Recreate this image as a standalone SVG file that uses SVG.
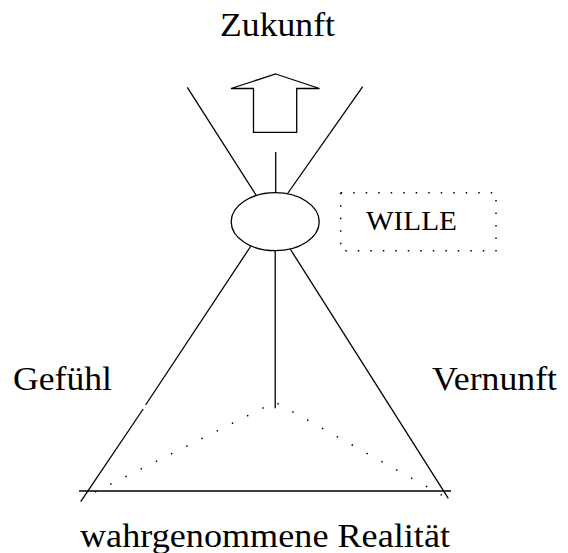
<svg xmlns="http://www.w3.org/2000/svg" width="568" height="553" viewBox="0 0 568 553">
<style>
.ln{fill:none;stroke:#000;stroke-width:1.3}
.dot{fill:none;stroke:#000;stroke-width:1.5;stroke-dasharray:1.5 15.5}
.dotb{fill:none;stroke:#000;stroke-width:1.5;stroke-dasharray:1.5 11}
.lbl{font-family:"Liberation Serif","Times New Roman",serif;font-size:34px;fill:#000}
.wl{font-family:"Liberation Serif","Times New Roman",serif;font-size:28px;fill:#000}
</style>
<rect width="568" height="553" fill="#fff"/>
<g id="connectors">
<line class="ln" x1="187.3" y1="87.3" x2="256" y2="195"/>
<line class="ln" x1="362.7" y1="86.7" x2="287.6" y2="193.5"/>
<line class="ln" x1="275.7" y1="152" x2="275.7" y2="193"/>
<line class="ln" x1="250.9" y1="246" x2="145.6" y2="405"/>
<line class="ln" x1="143.2" y1="409" x2="80.7" y2="501.7"/>
<line class="ln" x1="290.2" y1="249" x2="448.3" y2="498.3"/>
<line class="ln" x1="275.2" y1="250.7" x2="275.2" y2="408.3"/>
<line class="ln" x1="79" y1="491" x2="451" y2="491"/>
<polyline class="dot" points="95,492 275,402 447,498"/>
</g>
<g id="zukunft">
<text class="lbl" x="220" y="36" textLength="115" lengthAdjust="spacingAndGlyphs">Zukunft</text>
</g>
<g id="arrow">
<polygon class="ln" points="275.7,74 319.5,88.5 296.7,88.5 296.7,132.3 253.5,132.3 253.5,88.5 231,88.5"/>
</g>
<g id="wille-node">
<ellipse class="ln" cx="275.2" cy="221.7" rx="44" ry="29"/>
</g>
<g id="wille-label">
<rect class="dotb" x="340.7" y="192.7" width="155.3" height="58"/>
<text class="wl" x="366" y="230" textLength="91" lengthAdjust="spacingAndGlyphs">WILLE</text>
</g>
<g id="gefuehl">
<text class="lbl" x="13" y="390" textLength="99" lengthAdjust="spacingAndGlyphs">Gefühl</text>
</g>
<g id="vernunft">
<text class="lbl" x="432" y="390" textLength="125" lengthAdjust="spacingAndGlyphs">Vernunft</text>
</g>
<g id="realitaet">
<text class="lbl" x="80" y="547" textLength="370" lengthAdjust="spacingAndGlyphs">wahrgenommene Realität</text>
</g>
</svg>
